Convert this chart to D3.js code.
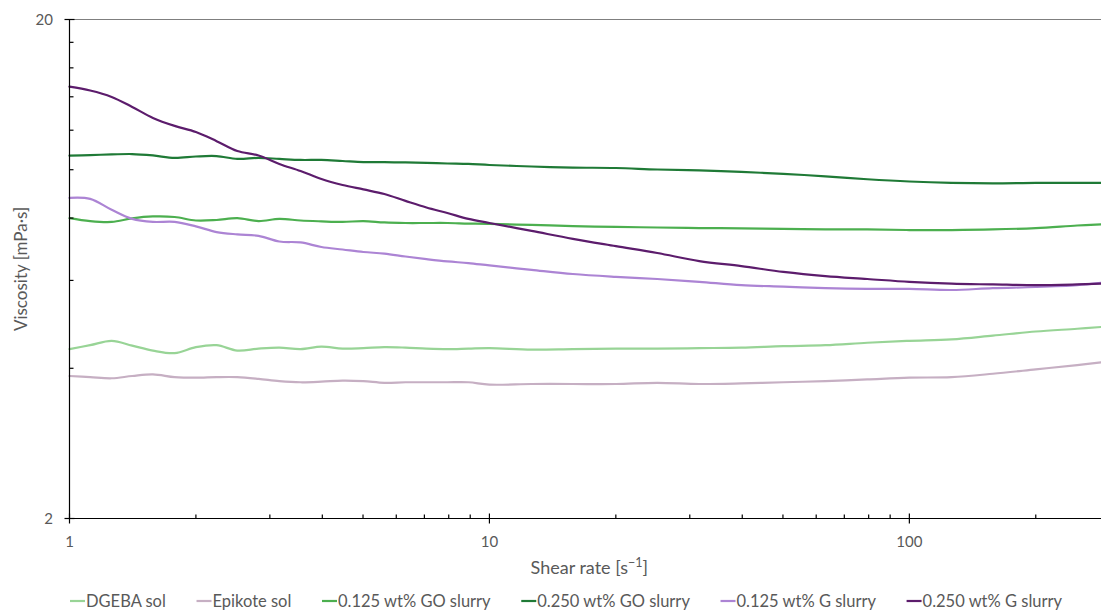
<!DOCTYPE html>
<html>
<head>
<meta charset="utf-8">
<script src="https://cdn.jsdelivr.net/npm/d3@7"></script>
<style>
  html, body { margin: 0; padding: 0; background: #fff; }
  svg { display: block; font-family: "Lato", "Open Sans", sans-serif; }
</style>
</head>
<body>
<svg id="chart" width="1101" height="610"></svg>
<script>
// Shear rates (1/s) shared by every curve
const shearRate = [1, 1.12, 1.26, 1.41, 1.58, 1.78, 2, 2.24, 2.51, 2.82, 3.16, 3.55, 3.98, 4.47, 5.01,
  5.62, 6.31, 7.08, 7.94, 8.91, 10, 12.6, 15.8, 20, 25.1, 31.6, 39.8, 50.1, 63.1, 79.4, 100,
  126, 158, 200, 251, 286];

// Viscosity (mPa·s) for each sample
const dgebaSol = [4.37, 4.45, 4.54, 4.44, 4.34, 4.29, 4.41, 4.45, 4.34, 4.38, 4.40, 4.37, 4.42, 4.38, 4.39,
  4.41, 4.40, 4.38, 4.37, 4.38, 4.39, 4.36, 4.37, 4.38, 4.38, 4.39, 4.40, 4.43, 4.45, 4.50, 4.54,
  4.57, 4.65, 4.74, 4.80, 4.84];
const epikoteSol = [3.86, 3.84, 3.82, 3.86, 3.89, 3.84, 3.83, 3.84, 3.84, 3.81, 3.77, 3.75, 3.76, 3.78, 3.77,
  3.74, 3.75, 3.75, 3.75, 3.75, 3.71, 3.72, 3.72, 3.72, 3.74, 3.72, 3.73, 3.75, 3.77, 3.80, 3.83,
  3.84, 3.90, 3.98, 4.06, 4.11];
const go125 = [8.00, 7.89, 7.86, 7.99, 8.06, 8.04, 7.91, 7.93, 8.00, 7.89, 7.97, 7.91, 7.88, 7.86, 7.89,
  7.84, 7.82, 7.82, 7.82, 7.80, 7.79, 7.75, 7.71, 7.68, 7.66, 7.64, 7.63, 7.61, 7.59, 7.59, 7.57,
  7.57, 7.59, 7.64, 7.73, 7.77];
const go250 = [10.67, 10.70, 10.73, 10.75, 10.68, 10.56, 10.63, 10.65, 10.51, 10.56, 10.51, 10.46, 10.46, 10.41, 10.36,
  10.36, 10.34, 10.32, 10.29, 10.27, 10.22, 10.15, 10.10, 10.08, 10.01, 9.97, 9.90, 9.81, 9.70, 9.57, 9.47,
  9.41, 9.39, 9.41, 9.41, 9.41];
const g125 = [8.78, 8.74, 8.31, 7.97, 7.86, 7.86, 7.70, 7.50, 7.42, 7.37, 7.18, 7.15, 7.00, 6.92, 6.84,
  6.79, 6.70, 6.62, 6.55, 6.50, 6.43, 6.30, 6.18, 6.10, 6.04, 5.96, 5.87, 5.83, 5.79, 5.77, 5.77,
  5.74, 5.79, 5.82, 5.87, 5.93];
const g250 = [14.67, 14.41, 13.99, 13.36, 12.70, 12.24, 11.90, 11.41, 10.90, 10.68, 10.27, 9.94, 9.58, 9.32, 9.13,
  8.94, 8.66, 8.40, 8.19, 7.97, 7.82, 7.54, 7.27, 7.03, 6.81, 6.56, 6.41, 6.24, 6.12, 6.04, 5.96,
  5.91, 5.89, 5.87, 5.89, 5.91];

const seriesNames = ["DGEBA sol", "Epikote sol", "0.125 wt% GO slurry", "0.250 wt% GO slurry",
  "0.125 wt% G slurry", "0.250 wt% G slurry"];
const seriesValues = [dgebaSol, epikoteSol, go125, go250, g125, g250];
const seriesColors = ["#98d496", "#c6afc3", "#4caf4f", "#1f7a36", "#ac84d4", "#5c1c6c"];

// Axis ticks
const xMajorTicks = [1, 10, 100];
const xMinorTicks = [2, 3, 4, 5, 6, 7, 8, 9, 20, 30, 40, 50, 60, 70, 80, 90, 200];
const yMajorTicks = [2, 20];
const yMinorTicks = [4, 6, 8, 10, 12, 14, 16, 18];

const xTitle = "Shear rate [s";
const xTitleSup = "−1";
const yTitle = "Viscosity [mPa·s]";

(function drawChart() {
  const svg = d3.select("#chart");
  const plotLeft = 69.5, plotRight = 1101, plotTop = 19.5, plotBottom = 518.5;

  const x = d3.scaleLog().domain([1, 286]).range([plotLeft, plotRight]);
  const y = d3.scaleLog().domain([2, 20]).range([plotBottom, plotTop]);

  const textColor = "#595959";

  // top frame line
  svg.append("line")
    .attr("x1", plotLeft).attr("x2", plotRight).attr("y1", plotTop).attr("y2", plotTop)
    .attr("stroke", "#7f7f7f").attr("stroke-width", 1.2);

  // curves
  const line = d3.line()
    .x((d, i) => x(shearRate[i]))
    .y(d => y(d))
    .curve(d3.curveCatmullRom.alpha(0.5));

  const plot = svg.append("g");
  seriesValues.forEach((vals, k) => {
    plot.append("path")
      .attr("d", line(vals))
      .attr("fill", "none")
      .attr("stroke", seriesColors[k])
      .attr("stroke-width", 2.2)
      .attr("stroke-linejoin", "round")
      .attr("stroke-linecap", "round");
  });

  // axes
  const axes = svg.append("g").attr("stroke", "#000").attr("stroke-width", 1.2);
  axes.append("line").attr("x1", plotLeft).attr("x2", plotLeft).attr("y1", plotTop).attr("y2", plotBottom);
  axes.append("line").attr("x1", plotLeft).attr("x2", plotRight).attr("y1", plotBottom).attr("y2", plotBottom);

  xMinorTicks.forEach(t => {
    axes.append("line").attr("x1", x(t)).attr("x2", x(t)).attr("y1", plotBottom).attr("y2", plotBottom - 4);
  });
  xMajorTicks.forEach(t => {
    axes.append("line").attr("x1", x(t)).attr("x2", x(t)).attr("y1", plotBottom - 5).attr("y2", plotBottom + 5);
  });
  yMinorTicks.forEach(t => {
    axes.append("line").attr("x1", plotLeft).attr("x2", plotLeft + 4).attr("y1", y(t)).attr("y2", y(t));
  });
  yMajorTicks.forEach(t => {
    axes.append("line").attr("x1", plotLeft - 5).attr("x2", plotLeft + 5).attr("y1", y(t)).attr("y2", y(t));
  });

  // tick labels
  svg.append("g").selectAll("text").data(xMajorTicks).join("text")
    .attr("x", d => x(d)).attr("y", 547)
    .attr("text-anchor", "middle")
    .attr("font-size", 15).attr("fill", textColor)
    .text(d => d);

  svg.append("g").selectAll("text").data(yMajorTicks).join("text")
    .attr("x", 53).attr("y", d => y(d))
    .attr("dy", "0.36em")
    .attr("text-anchor", "end")
    .attr("font-size", 15).attr("fill", textColor)
    .text(d => d);

  // axis titles
  const xt = svg.append("text")
    .attr("x", (plotLeft + plotRight) / 2 + 4).attr("y", 574)
    .attr("text-anchor", "middle")
    .attr("font-size", 18).attr("fill", textColor);
  xt.append("tspan").text(xTitle);
  xt.append("tspan").attr("dy", -7).attr("font-size", 12.5).text(xTitleSup);
  xt.append("tspan").attr("dy", 7).text("]");

  svg.append("text")
    .attr("transform", `translate(20,${(plotTop + plotBottom) / 2}) rotate(-90)`)
    .attr("text-anchor", "middle")
    .attr("dominant-baseline", "central")
    .attr("font-size", 17).attr("fill", textColor)
    .text(yTitle);

  // legend along the bottom
  const legend = svg.append("g");
  const segLen = 15, segGap = 1;
  const items = seriesNames.map((name, k) => {
    const g = legend.append("g");
    g.append("line").attr("x1", 0).attr("x2", segLen).attr("y1", 0).attr("y2", 0)
      .attr("stroke", seriesColors[k]).attr("stroke-width", 2.2);
    const t = g.append("text").attr("x", segLen + segGap).attr("y", 0).attr("dy", "0.35em")
      .attr("font-size", 16.5).attr("fill", textColor).text(name);
    return { g, w: segLen + segGap + t.node().getComputedTextLength() };
  });
  const legStart = 70, legEnd = 1062;
  const totalW = d3.sum(items, d => d.w);
  const gap = (legEnd - legStart - totalW) / (items.length - 1);
  let cx = legStart;
  items.forEach(it => {
    it.g.attr("transform", `translate(${cx},601)`);
    cx += it.w + gap;
  });
})();
</script>
</body>
</html>
